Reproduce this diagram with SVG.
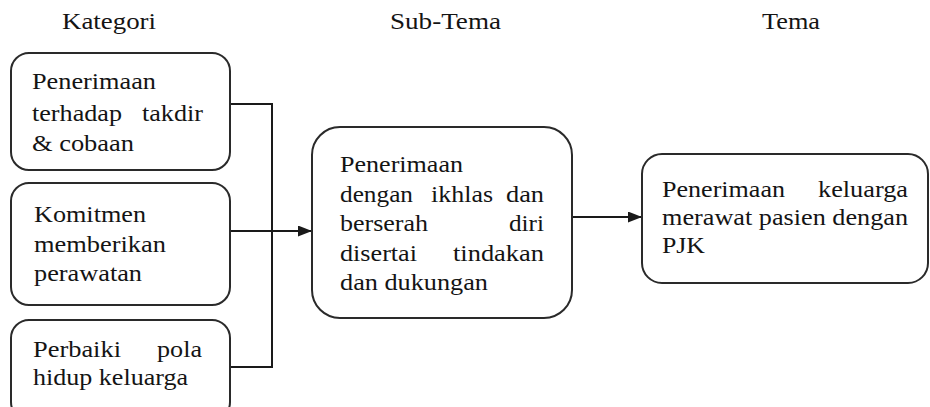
<svg xmlns="http://www.w3.org/2000/svg" width="930" height="407" viewBox="0 0 930 407">
<defs>
<style>
.box{fill:#fff;stroke:#2a2a2a;stroke-width:2}
.t{font-family:'Liberation Serif',LiberationSerif,'Times New Roman',Times,Tinos,'DejaVu Serif','Noto Serif',serif;font-size:24px;fill:#141414}
.c{fill:none;stroke:#1a1a1a;stroke-width:2}
</style>
<marker id="ah" markerUnits="userSpaceOnUse" markerWidth="14" markerHeight="11" refX="14" refY="5.5" orient="auto">
<path d="M0,0 L14,5.5 L0,11 z" fill="#1a1a1a"/>
</marker>
</defs>
<rect width="930" height="407" fill="#fff"/>
<g id="headers">
<text class="t" x="62" y="29" textLength="94" lengthAdjust="spacingAndGlyphs">Kategori</text>
<text class="t" x="390" y="29" textLength="111" lengthAdjust="spacingAndGlyphs">Sub-Tema</text>
<text class="t" x="762" y="29" textLength="58" lengthAdjust="spacingAndGlyphs">Tema</text>
</g>
<g id="connectors">
<polyline class="c" points="230,104 272,104 272,367 230,367"/>
<line class="c" x1="230" y1="231" x2="312" y2="231" marker-end="url(#ah)"/>
<line class="c" x1="572" y1="217" x2="642" y2="217" marker-end="url(#ah)"/>
</g>
<g id="kategori1">
<rect class="box" x="11" y="53" width="219" height="117" rx="18"/>
<text class="t" x="32" y="89" textLength="124" lengthAdjust="spacingAndGlyphs">Penerimaan</text>
<text class="t" x="32" y="121" textLength="90" lengthAdjust="spacingAndGlyphs">terhadap</text>
<text class="t" x="142" y="121" textLength="61" lengthAdjust="spacingAndGlyphs">takdir</text>
<text class="t" x="32" y="151" textLength="102" lengthAdjust="spacingAndGlyphs">&amp; cobaan</text>
</g>
<g id="kategori2">
<rect class="box" x="11" y="183" width="219" height="122" rx="18"/>
<text class="t" x="34" y="222" textLength="112" lengthAdjust="spacingAndGlyphs">Komitmen</text>
<text class="t" x="34" y="252" textLength="132" lengthAdjust="spacingAndGlyphs">memberikan</text>
<text class="t" x="34" y="281" textLength="108" lengthAdjust="spacingAndGlyphs">perawatan</text>
</g>
<g id="kategori3">
<rect class="box" x="11" y="320" width="219" height="100" rx="18"/>
<text class="t" x="33" y="357" textLength="88" lengthAdjust="spacingAndGlyphs">Perbaiki</text>
<text class="t" x="157" y="357" textLength="45" lengthAdjust="spacingAndGlyphs">pola</text>
<text class="t" x="33" y="385" textLength="155" lengthAdjust="spacingAndGlyphs">hidup keluarga</text>
</g>
<g id="subtema">
<rect class="box" x="312" y="127" width="260" height="191" rx="28"/>
<text class="t" x="340" y="172" textLength="123" lengthAdjust="spacingAndGlyphs">Penerimaan</text>
<text class="t" x="340" y="202" textLength="73" lengthAdjust="spacingAndGlyphs">dengan</text>
<text class="t" x="431" y="202" textLength="62" lengthAdjust="spacingAndGlyphs">ikhlas</text>
<text class="t" x="506" y="202" textLength="38" lengthAdjust="spacingAndGlyphs">dan</text>
<text class="t" x="340" y="231" textLength="88" lengthAdjust="spacingAndGlyphs">berserah</text>
<text class="t" x="509" y="231" textLength="35" lengthAdjust="spacingAndGlyphs">diri</text>
<text class="t" x="340" y="261" textLength="77" lengthAdjust="spacingAndGlyphs">disertai</text>
<text class="t" x="453" y="261" textLength="91" lengthAdjust="spacingAndGlyphs">tindakan</text>
<text class="t" x="340" y="290" textLength="148" lengthAdjust="spacingAndGlyphs">dan dukungan</text>
</g>
<g id="tema">
<rect class="box" x="642" y="154" width="286" height="129" rx="20"/>
<text class="t" x="662" y="197" textLength="123" lengthAdjust="spacingAndGlyphs">Penerimaan</text>
<text class="t" x="818" y="197" textLength="90" lengthAdjust="spacingAndGlyphs">keluarga</text>
<text class="t" x="662" y="225" textLength="246" lengthAdjust="spacingAndGlyphs">merawat pasien dengan</text>
<text class="t" x="662" y="253" textLength="43" lengthAdjust="spacingAndGlyphs">PJK</text>
</g>
</svg>
